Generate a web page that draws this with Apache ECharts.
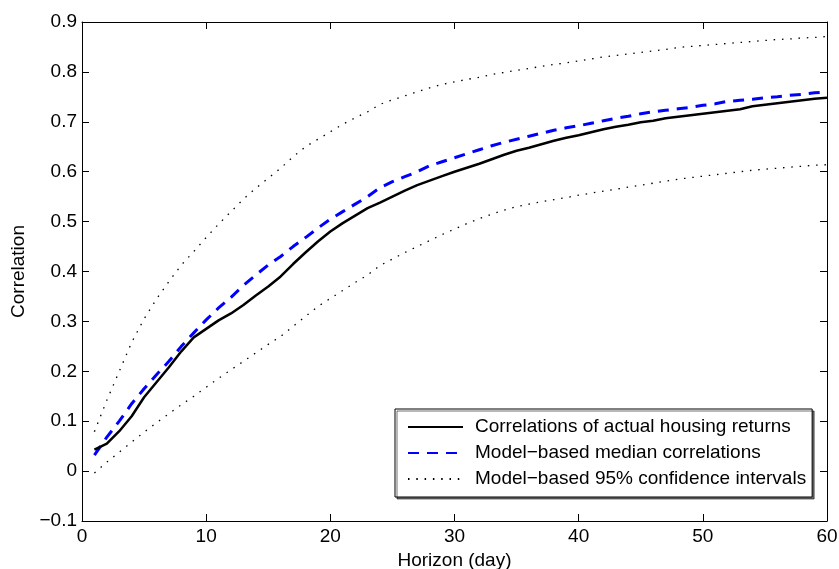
<!DOCTYPE html>
<html>
<head>
<meta charset="utf-8">
<script src="https://cdn.jsdelivr.net/npm/echarts@6/dist/echarts.min.js"></script>
<style>html,body{margin:0;padding:0;background:#fff;}#c{width:839px;height:569px;}</style>
</head>
<body>
<div id="c"></div>
<script>
const horizon = Array.from({length: 60}, (_, i) => i + 1);
const actual = [0.043,0.055,0.08,0.11,0.148,0.178,0.208,0.24,0.268,0.285,
  0.302,0.316,0.333,0.352,0.37,0.39,0.415,0.438,0.46,0.48,
  0.497,0.512,0.527,0.538,0.55,0.562,0.573,0.582,0.591,0.6,
  0.608,0.616,0.625,0.634,0.642,0.648,0.655,0.662,0.668,0.673,
  0.679,0.685,0.69,0.694,0.699,0.702,0.707,0.71,0.713,0.716,
  0.719,0.722,0.725,0.731,0.734,0.737,0.74,0.743,0.746,0.748];
const median = [0.032,0.068,0.1,0.135,0.165,0.193,0.22,0.25,0.277,0.303,
  0.327,0.348,0.372,0.393,0.413,0.43,0.45,0.468,0.487,0.505,
  0.52,0.535,0.55,0.568,0.58,0.59,0.6,0.612,0.62,0.628,
  0.636,0.644,0.652,0.659,0.665,0.671,0.677,0.683,0.688,0.692,
  0.697,0.702,0.707,0.711,0.716,0.72,0.723,0.726,0.729,0.733,
  0.736,0.741,0.743,0.745,0.748,0.75,0.753,0.755,0.758,0.76];
const upper = [0.079,0.142,0.2,0.258,0.305,0.345,0.38,0.413,0.44,0.468,
  0.495,0.52,0.545,0.567,0.587,0.607,0.63,0.65,0.665,0.68,
  0.695,0.708,0.72,0.735,0.744,0.752,0.76,0.768,0.775,0.78,
  0.785,0.789,0.795,0.799,0.803,0.807,0.811,0.815,0.818,0.822,
  0.826,0.83,0.833,0.836,0.839,0.842,0.845,0.849,0.851,0.853,
  0.855,0.857,0.859,0.861,0.863,0.865,0.866,0.868,0.869,0.871];
const lower = [-0.004,0.018,0.038,0.058,0.078,0.097,0.115,0.133,0.15,0.168,
  0.186,0.203,0.22,0.237,0.254,0.27,0.29,0.31,0.33,0.346,
  0.362,0.378,0.393,0.412,0.425,0.438,0.45,0.462,0.474,0.485,
  0.496,0.506,0.515,0.523,0.53,0.535,0.54,0.544,0.548,0.553,
  0.557,0.561,0.565,0.569,0.573,0.577,0.581,0.585,0.588,0.591,
  0.594,0.597,0.6,0.603,0.605,0.607,0.609,0.611,0.613,0.614];
const seriesNames = ['Correlations of actual housing returns','Model\u2212based median correlations','Model\u2212based 95% confidence intervals'];

const pairs = ys => horizon.map((x, i) => [x, ys[i]]);
const FONT = 'Liberation Sans, Arial, sans-serif';
const FS = 19;
const fmtY = v => { const r = Math.round(v * 10) / 10; return r < 0 ? '\u2212' + Math.abs(r) : String(r); };

const axisCommon = {
  axisLine: {show: true, onZero: false, lineStyle: {color: '#000', width: 1}},
  axisTick: {show: true, inside: true, length: 7, lineStyle: {color: '#000', width: 1}},
  splitLine: {show: false}
};

const chart = echarts.init(document.getElementById('c'), null, {renderer: 'canvas'});
chart.setOption({
  animation: false,
  backgroundColor: '#fff',
  grid: {left: 82, top: 22, right: 12, bottom: 48, containLabel: false, outerBoundsMode: 'none'},
  xAxis: [
    Object.assign({type: 'value', min: 0, max: 60, interval: 10, position: 'bottom',
      name: 'Horizon (day)', nameLocation: 'middle', nameGap: 28,
      nameTextStyle: {fontFamily: FONT, fontSize: FS, color: '#000'},
      axisLabel: {fontFamily: FONT, fontSize: FS, color: '#000', margin: 6}}, axisCommon),
    Object.assign({type: 'value', min: 0, max: 60, interval: 10, position: 'top',
      axisLabel: {show: false}}, axisCommon)
  ],
  yAxis: [
    Object.assign({type: 'value', min: -0.1, max: 0.9, interval: 0.1, position: 'left',
      name: 'Correlation', nameLocation: 'middle', nameGap: 54, nameRotate: 90,
      nameTextStyle: {fontFamily: FONT, fontSize: FS, color: '#000'},
      axisLabel: {fontFamily: FONT, fontSize: FS, color: '#000', margin: 5, formatter: fmtY}}, axisCommon),
    Object.assign({type: 'value', min: -0.1, max: 0.9, interval: 0.1, position: 'right',
      axisLabel: {show: false}}, axisCommon)
  ],
  legend: {
    orient: 'vertical', left: 395, top: 409,
    data: seriesNames,
    backgroundColor: '#fff', borderColor: '#000', borderWidth: 1,
    shadowColor: 'rgba(0,0,0,0.55)', shadowOffsetX: 2, shadowOffsetY: 2, shadowBlur: 0,
    padding: [8, 6, 8, 12], itemGap: 6, itemWidth: 55, itemHeight: 18,
    itemStyle: {opacity: 0},
    textStyle: {fontFamily: FONT, fontSize: FS, color: '#000', lineHeight: 20, padding: [0, 0, 0, 7]},
    selectedMode: false
  },
  series: [
    {name: seriesNames[0], type: 'line', data: pairs(actual), symbol: 'none', z: 4,
      lineStyle: {color: '#000', width: 2.5}, itemStyle: {color: '#000'}},
    {name: seriesNames[1], type: 'line', data: pairs(median), symbol: 'none', z: 3,
      lineStyle: {color: '#0000ff', width: 3, type: [11, 8]}, itemStyle: {color: '#0000ff'}},
    {name: seriesNames[2], type: 'line', data: pairs(upper), symbol: 'none', z: 2,
      lineStyle: {color: '#000', width: 1.3, type: [1.5, 6.8]}, itemStyle: {color: '#000'}},
    {name: seriesNames[2], type: 'line', data: pairs(lower), symbol: 'none', z: 2,
      lineStyle: {color: '#000', width: 1.3, type: [1.5, 6.8]}, itemStyle: {color: '#000'}}
  ]
});
</script>
</body>
</html>
